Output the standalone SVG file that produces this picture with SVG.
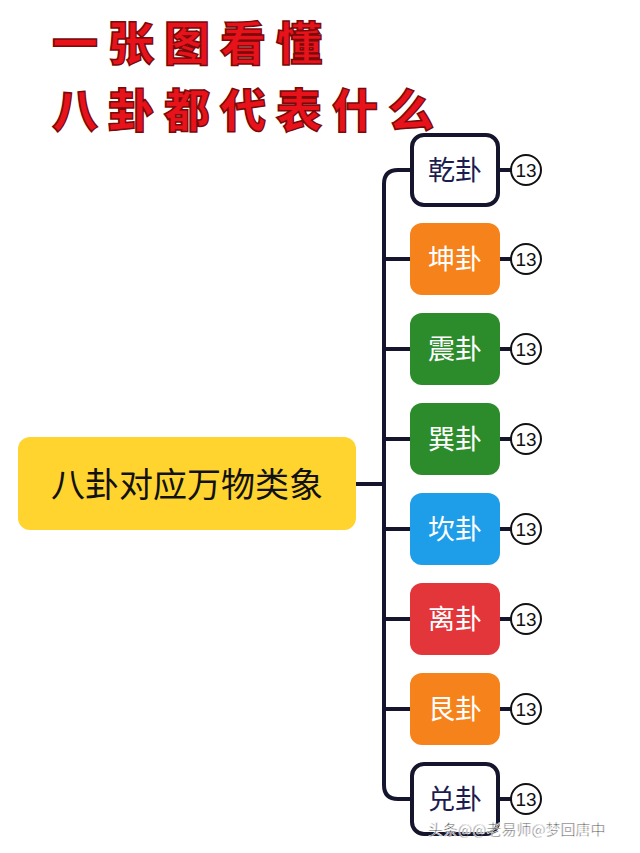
<svg xmlns="http://www.w3.org/2000/svg" width="640" height="853" viewBox="0 0 640 853">
<style>
.t{font-family:"Noto Sans CJK SC",sans-serif;font-weight:900;font-size:46px;fill:#e8121a;stroke:#7a0a0a;stroke-width:1.5px;letter-spacing:10px}
.n{stroke:#15152e;stroke-width:4}
.nt{font-family:"Noto Sans CJK SC",sans-serif;font-size:27px;fill:#fff;text-anchor:middle}
.c{fill:#fff;stroke:#111;stroke-width:2}
.ct{font-family:"Liberation Sans",sans-serif;font-size:19px;text-anchor:middle;fill:#111}
.l{fill:none;stroke:#15152e;stroke-width:4}
</style>
<rect width="640" height="853" fill="#fff"/>
<text class="t" x="52" y="60">一张图看懂</text>
<text class="t" x="52" y="127">八卦都代表什么</text>
<g id="connectors">
<path class="l" d="M356 484H384M412 170H398Q384 170 384 184V785Q384 799 398 799H412"/>
<path class="l" d="M384 259H412M384 349H412M384 439H412M384 529H412M384 619H412M384 709H412"/>
<path class="l" d="M498 170H512M498 259H512M498 349H512M498 439H512M498 529H512M498 619H512M498 709H512M498 799H512"/>
</g>
<g id="main"><rect x="18" y="437" width="338" height="93" rx="12" fill="#ffd42e"/><text x="187" y="497" font-family="Noto Sans CJK SC,sans-serif" font-size="34" text-anchor="middle" fill="#111">八卦对应万物类象</text></g>
<g id="qian"><rect class="n" x="412" y="135" width="86" height="70" rx="12" fill="#fff"/><text class="nt" x="455" y="180" style="fill:#1c1c50">乾卦</text><circle class="c" cx="526" cy="170" r="15"/><text class="ct" x="526" y="177">13</text></g>
<g id="kun"><rect x="410" y="223" width="90" height="72" rx="12" fill="#f6821c"/><text class="nt" x="455" y="269">坤卦</text><circle class="c" cx="526" cy="259" r="15"/><text class="ct" x="526" y="266">13</text></g>
<g id="zhen"><rect x="410" y="313" width="90" height="72" rx="12" fill="#2c8c2c"/><text class="nt" x="455" y="359">震卦</text><circle class="c" cx="526" cy="349" r="15"/><text class="ct" x="526" y="356">13</text></g>
<g id="xun"><rect x="410" y="403" width="90" height="72" rx="12" fill="#2c8c2c"/><text class="nt" x="455" y="449">巽卦</text><circle class="c" cx="526" cy="439" r="15"/><text class="ct" x="526" y="446">13</text></g>
<g id="kan"><rect x="410" y="493" width="90" height="72" rx="12" fill="#1e9de8"/><text class="nt" x="455" y="539">坎卦</text><circle class="c" cx="526" cy="529" r="15"/><text class="ct" x="526" y="536">13</text></g>
<g id="li"><rect x="410" y="583" width="90" height="72" rx="12" fill="#e2363a"/><text class="nt" x="455" y="629">离卦</text><circle class="c" cx="526" cy="619" r="15"/><text class="ct" x="526" y="626">13</text></g>
<g id="gen"><rect x="410" y="673" width="90" height="72" rx="12" fill="#f6821c"/><text class="nt" x="455" y="719">艮卦</text><circle class="c" cx="526" cy="709" r="15"/><text class="ct" x="526" y="716">13</text></g>
<g id="dui"><rect class="n" x="412" y="764" width="86" height="70" rx="12" fill="#fff"/><text class="nt" x="455" y="809" style="fill:#1c1c50">兑卦</text><circle class="c" cx="526" cy="799" r="15"/><text class="ct" x="526" y="806">13</text></g>
<text x="428" y="835" font-family="Noto Sans CJK SC,sans-serif" font-size="15" fill="#222" stroke="#fff" stroke-width="0.6">头条@@老易师@梦回唐中</text>
</svg>
